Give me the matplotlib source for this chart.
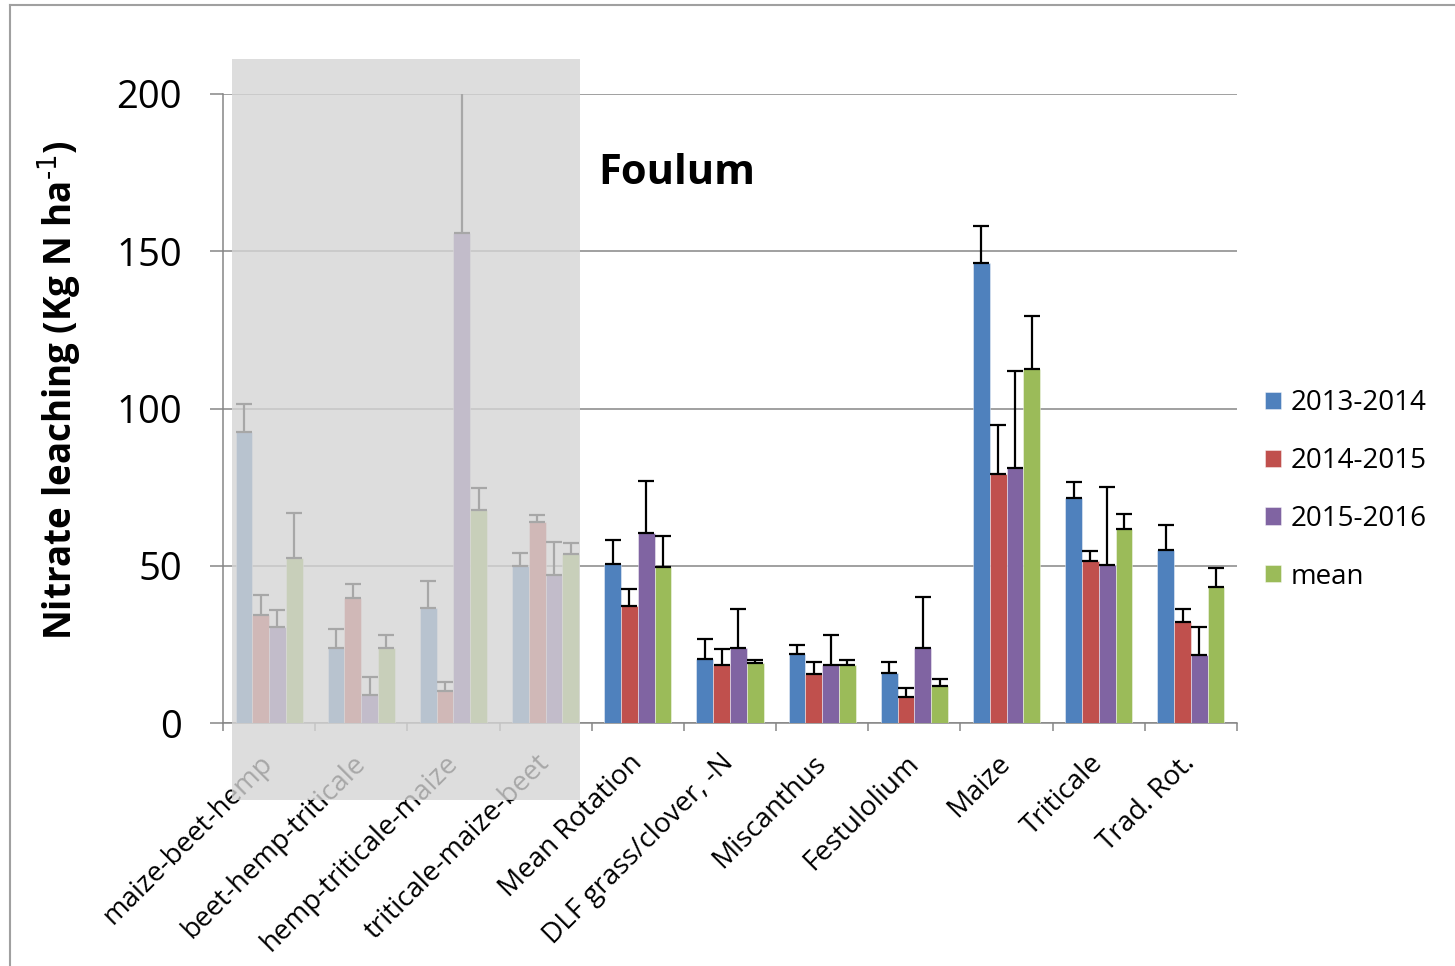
import numpy as np
import matplotlib
matplotlib.use("Agg")
import matplotlib.pyplot as plt
from matplotlib.patches import Rectangle
from matplotlib.lines import Line2D

# Nitrate leaching per cropping system and season (kg N/ha)
categories = ['maize-beet-hemp', 'beet-hemp-triticale', 'hemp-triticale-maize',
              'triticale-maize-beet', 'Mean Rotation', 'DLF grass/clover, -N',
              'Miscanthus', 'Festulolium', 'Maize', 'Triticale', 'Trad. Rot.']
series_names = ['2013-2014', '2014-2015', '2015-2016', 'mean']

y2013 = [92.4, 23.9, 36.7, 49.9, 50.6, 20.2, 22.0, 16.0, 146.2, 71.4, 55.0]
err2013 = [8.9, 5.9, 8.4, 4.1, 7.7, 6.5, 2.9, 3.5, 11.9, 5.1, 7.8]
y2014 = [34.2, 39.7, 10.1, 63.9, 37.3, 18.4, 15.5, 8.2, 79.3, 51.4, 32.0]
err2014 = [6.5, 4.6, 2.9, 2.3, 5.2, 5.2, 4.0, 2.8, 15.5, 3.4, 4.1]
y2015 = [30.5, 8.8, 155.9, 47.0, 60.3, 23.8, 18.4, 23.8, 81.2, 50.2, 21.7]
err2015 = [5.3, 5.9, 50.0, 10.6, 16.7, 12.5, 9.5, 16.3, 30.8, 24.7, 8.8]
ymean = [52.5, 23.9, 67.6, 53.6, 49.5, 19.1, 18.4, 11.8, 112.7, 61.7, 43.4]
errmean = [14.3, 4.1, 7.1, 3.5, 10.0, 1.0, 1.6, 2.2, 16.7, 4.6, 5.9]

yticks = [0, 50, 100, 150, 200]

values = [y2013, y2014, y2015, ymean]
errors = [err2013, err2014, err2015, errmean]
colors = ['#4F81BD', '#C0504D', '#8064A2', '#9BBB59']

W, H = 1455, 966
fig = plt.figure(figsize=(W / 100, H / 100), dpi=100)
fig.patch.set_facecolor('white')

ax = fig.add_axes([223 / W, 1 - 723 / H, 1014 / W, 629 / H])

x = np.arange(len(categories))
bw = 0.182
grid_c = '#868686'

handles = []
for k, (vals, errs, c) in enumerate(zip(values, errors, colors)):
    pos = x + (k - 1.5) * bw
    b = ax.bar(pos, vals, width=bw, color=c, edgecolor=(1, 1, 1, 0.5),
               linewidth=0.6, zorder=3, label=series_names[k])
    ax.errorbar(pos, vals, yerr=[np.zeros(len(errs)), errs], fmt='none',
                ecolor='black', elinewidth=1.6, capsize=5.5, capthick=1.6,
                zorder=4)
    handles.append(b)

ax.set_xlim(-0.5, len(categories) - 0.5)
ax.set_ylim(0, 200)
ax.set_yticks(yticks)
ax.yaxis.grid(True, color=grid_c, linewidth=1.1, zorder=0)
ax.set_axisbelow(True)

for s in ['top', 'right']:
    ax.spines[s].set_visible(False)
for s in ['left', 'bottom']:
    ax.spines[s].set_color(grid_c)
    ax.spines[s].set_linewidth(1.1)

ax.tick_params(axis='y', direction='out', length=9.5, width=1.1, color=grid_c,
               pad=20, labelsize=27.5)
for lab in ax.get_yticklabels():
    lab.set_fontfamily('Open Sans')

ax.set_xticks(x)
ax.set_xticks(np.arange(-0.5, len(categories), 1), minor=True)
ax.tick_params(axis='x', which='major', length=0, pad=26)
ax.tick_params(axis='x', which='minor', direction='out', length=6, width=1.1,
               color=grid_c)
ax.set_xticklabels(categories, rotation=45, ha='right', va='center',
                   rotation_mode='anchor', fontsize=20, fontfamily='Open Sans')

plt.rcParams['mathtext.default'] = 'regular'
fig.text(60 / W, 1 - 390 / H, r'Nitrate leaching (Kg N ha$^{\text{-1}}$)',
         rotation=90, ha='center', va='center', fontsize=26.5,
         fontweight='bold', fontfamily='Open Sans')

fig.text(598 / W, 1 - 173 / H, 'Foulum', ha='left', va='center',
         fontsize=30, fontweight='bold', fontfamily='Open Sans')

leg = fig.legend(handles=handles, loc='center left',
                 bbox_to_anchor=(1265 / W, 1 - 490 / H), frameon=False,
                 prop={'family': 'Open Sans', 'size': 20},
                 handlelength=0.58, handleheight=0.58, handletextpad=0.35,
                 labelspacing=1.07, borderpad=0, borderaxespad=0)

# translucent panel over the rotation treatments
fig.patches.append(Rectangle((232 / W, 1 - 800 / H), (580 - 232) / W,
                             (800 - 59) / H, transform=fig.transFigure,
                             facecolor=(213 / 255, 213 / 255, 213 / 255),
                             alpha=0.79, edgecolor='none', zorder=10))

# outer frame
fig.lines.append(Line2D([10 / W, 10 / W], [0, 1 - 5 / H], transform=fig.transFigure,
                        color='#A0A0A0', linewidth=1.5))
fig.lines.append(Line2D([10 / W, 1], [1 - 5 / H, 1 - 5 / H], transform=fig.transFigure,
                        color='#A0A0A0', linewidth=1.5))

fig.savefig('out.png', dpi=100)
